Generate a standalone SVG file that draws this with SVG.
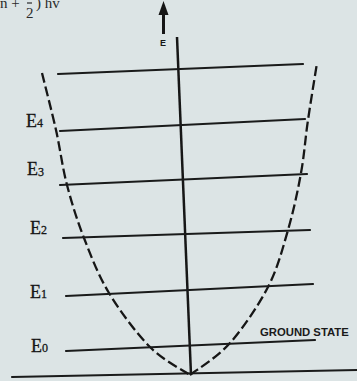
<svg xmlns="http://www.w3.org/2000/svg" width="357" height="381" viewBox="0 0 357 381">
<style>
.bg{fill:#dce4e5}
.lvl{stroke:#1a1b1b;stroke-width:2.2;fill:none;stroke-linecap:round}
.axis{stroke:#161616;stroke-width:2.5;fill:none}
.curve{stroke:#161616;stroke-width:2.3;fill:none;stroke-dasharray:10 4}
.lab{font-family:"Liberation Serif",serif;font-size:18px;fill:#161616;stroke:#161616;stroke-width:0.3}
.sub{font-size:12px}
.gs{font-family:"Liberation Sans",Arial,sans-serif;font-weight:bold;font-size:11.3px;fill:#1a1a1a}
.top{font-family:"Liberation Serif",serif;font-size:15px;fill:#2a2a2a}
</style>
<rect class="bg" x="0" y="0" width="357" height="381"/>
<g id="formula">
<text class="top" x="0" y="8">n +</text>
<line x1="27" y1="3" x2="32" y2="3" stroke="#2a2a2a" stroke-width="1.2"/>
<text class="top" x="26" y="18" font-size="11px">2</text>
<text class="top" x="36" y="8">) hv</text>
</g>
<g id="energy-arrow">
<line x1="163.5" y1="13" x2="163.5" y2="34" stroke="#161616" stroke-width="3"/>
<polygon points="163.5,1 168.5,15 158.5,15" fill="#161616"/>
<text x="163" y="46" font-family="Liberation Sans,sans-serif" font-weight="bold" font-size="9px" fill="#161616" text-anchor="middle">E</text>
</g>
<g id="connectors">
<line class="axis" x1="177" y1="37" x2="191" y2="375"/>
<line class="lvl" x1="12" y1="377" x2="357" y2="370"/>
<path class="curve" d="M42,73 C44.3,82.5 51.8,111.3 56,130 C60.2,148.7 62.3,167 67,185 C71.7,203 77,220 84,238 C91,256 98,274.8 109,293 C120,311.2 136.5,333.3 150,347 C163.5,360.7 183.3,370.3 190,375"/>
<path class="curve" d="M190,375 C196.7,369.7 217,357.7 230,343 C243,328.3 258.3,305.8 268,287 C277.7,268.2 282.5,249 288,230 C293.5,211 297.7,191.3 301,173 C304.3,154.7 305.3,138.3 308,120 C310.7,101.7 315.5,72.5 317,63"/>
</g>
<g id="level-top"><line class="lvl" x1="58" y1="74" x2="303" y2="64"/></g>
<g id="level-E4">
<line class="lvl" x1="60" y1="131" x2="305" y2="119"/>
<text class="lab" x="26" y="127">E<tspan class="sub">4</tspan></text>
</g>
<g id="level-E3">
<line class="lvl" x1="60" y1="185" x2="307" y2="174"/>
<text class="lab" x="27" y="175">E<tspan class="sub" dy="1">3</tspan></text>
</g>
<g id="level-E2">
<line class="lvl" x1="63" y1="238" x2="310" y2="230"/>
<text class="lab" x="30" y="234">E<tspan class="sub">2</tspan></text>
</g>
<g id="level-E1">
<line class="lvl" x1="66" y1="296" x2="313" y2="284"/>
<text class="lab" x="30" y="298">E<tspan class="sub">1</tspan></text>
</g>
<g id="level-E0">
<line class="lvl" x1="66" y1="351" x2="315" y2="340"/>
<text class="lab" x="31" y="352">E<tspan class="sub">0</tspan></text>
<text class="gs" x="260" y="336">GROUND STATE</text>
</g>
</svg>
